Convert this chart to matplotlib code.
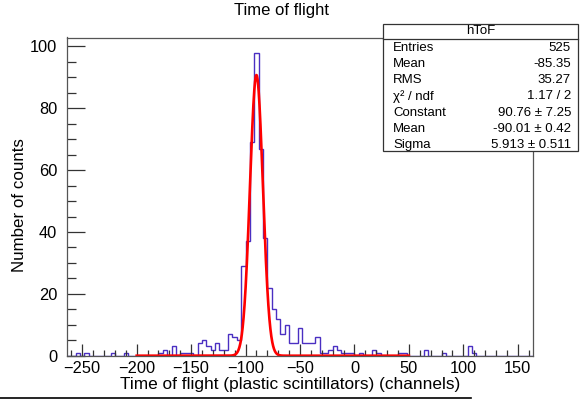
import numpy as np
import matplotlib
matplotlib.use("Agg")
import matplotlib.pyplot as plt
from matplotlib.patches import Rectangle
from matplotlib.lines import Line2D
from matplotlib.ticker import MultipleLocator

plt.rcParams['font.family'] = ['Liberation Sans', 'DejaVu Sans']

# ---- data ----
bin_start = -264
bin_width = 4
counts = [
    0, 0, 1, 0, 1, 0, 0, 0, 0, 0,
    1, 0, 0, 1, 0, 0, 0, 0, 0, 0,
    0, 1, 2, 0, 3, 0, 1, 1, 1, 0,
    4, 5, 3, 2, 4, 2, 2, 7, 6, 5,
    29, 37, 69, 98, 67, 38, 22, 15, 12, 7,
    10, 4, 4, 9, 4, 4, 4, 6, 1, 1,
    2, 3, 2, 1, 1, 1, 0, 1, 0, 0,
    2, 1, 0, 0, 0, 0, 1, 1, 0, 0,
    0, 0, 2, 0, 0, 0, 1, 0, 0, 0,
    0, 0, 3, 1, 0, 0, 0, 0, 0, 0,
    0, 0, 0, 0, 0, 0, 0,
]
fit_constant = 90.76
fit_mean = -90.01
fit_sigma = 5.913
fit_range = (-200, 50)

stats_title = "hToF"
stats_labels = ["Entries", "Mean", "RMS", "\u03c7\u00b2 / ndf", "Constant", "Mean", "Sigma"]
stats_values = ["525", "-85.35", "35.27", "1.17 / 2",
                "90.76 \u00b1 7.25", "-90.01 \u00b1 0.42", "5.913 \u00b1 0.511"]

title = "Time of flight"
xlabel = "Time of flight (plastic scintillators) (channels)"
ylabel = "Number of counts"

# ---- figure ----
W, H = 588, 403
fig = plt.figure(figsize=(W / 100, H / 100), dpi=100)

def fx(px):
    return px / W

def fy(py):
    return 1 - py / H

ax_l, ax_r, ax_t, ax_b = 67, 533, 37.5, 355.7
ax = fig.add_axes([fx(ax_l), fy(ax_b), fx(ax_r) - fx(ax_l), fy(ax_t) - fy(ax_b)])

edges = bin_start + bin_width * np.arange(len(counts) + 1)
ax.stairs(counts, edges, color='#4a2fc2', linewidth=1.0, baseline=0)

xf = np.linspace(fit_range[0], fit_range[1], 2000)
yf = fit_constant * np.exp(-0.5 * ((xf - fit_mean) / fit_sigma) ** 2)
ax.plot(xf, yf, color='#ff0000', linewidth=1.9)

ax.set_xlim(edges[0], edges[-1])
ax.set_ylim(0, 1.05 * max(counts))

ax.xaxis.set_major_locator(MultipleLocator(50))
ax.xaxis.set_minor_locator(MultipleLocator(10))
ax.yaxis.set_major_locator(MultipleLocator(20))
ax.yaxis.set_minor_locator(MultipleLocator(5))
ax.tick_params(axis='x', which='major', direction='in', length=9, width=0.9,
               color='#333333', labelsize=11.8, pad=4, top=False)
ax.tick_params(axis='x', which='minor', direction='in', length=4.5, width=0.9,
               color='#333333', top=False)
ax.tick_params(axis='y', which='major', direction='in', length=13, width=0.9,
               color='#333333', labelsize=11.8, pad=7, right=False)
ax.tick_params(axis='y', which='minor', direction='in', length=6.5, width=0.9,
               color='#333333', right=False)
for s in ax.spines.values():
    s.set_color('#555555')
    s.set_linewidth(0.9)

# titles
fig.text(fx(281.5), fy(10), title, ha='center', va='center', fontsize=12)
fig.text(fx(290.5), fy(384), xlabel, ha='center', va='center', fontsize=12.4)
fig.text(fx(20), fy(205), ylabel, ha='center', va='center', rotation=90, fontsize=12.2)

# stats box
bx0, bx1, by0, by1 = 383, 578, 24, 151
fig.patches.append(Rectangle((fx(bx0), fy(by1)), fx(bx1) - fx(bx0), fy(by0) - fy(by1),
                             transform=fig.transFigure, facecolor='white',
                             edgecolor='#333333', linewidth=0.9, zorder=10))
fig.lines.append(Line2D([fx(bx0), fx(bx1)], [fy(39.3), fy(39.3)],
                        transform=fig.transFigure, color='#333333', linewidth=0.9, zorder=11))
fig.text(fx((bx0 + bx1) / 2), fy(31.5), stats_title, ha='center', va='center',
         fontsize=9.5, zorder=12)
row0, dy = 47.7, 16.2
for k, (lab, val) in enumerate(zip(stats_labels, stats_values)):
    yy = fy(row0 + k * dy)
    fig.text(fx(393), yy, lab, ha='left', va='center', fontsize=9.5, zorder=12)
    fig.text(fx(571), yy, val, ha='right', va='center', fontsize=9.5, zorder=12)

# bottom line artifact
fig.lines.append(Line2D([0, fx(471)], [fy(397.5), fy(397.5)], transform=fig.transFigure,
                        color='black', linewidth=1.2))

fig.savefig("out.png", dpi=100)
